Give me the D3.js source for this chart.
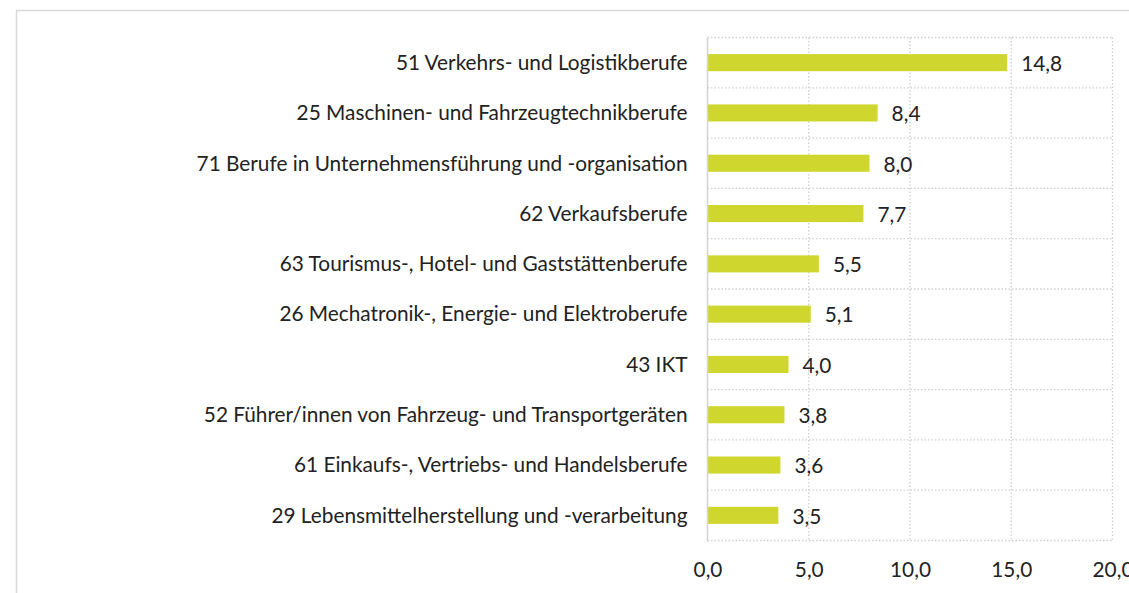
<!DOCTYPE html>
<html><head><meta charset="utf-8">
<script src="https://cdn.jsdelivr.net/npm/d3@7"></script>
<style>html,body{margin:0;padding:0;background:#fff;overflow:hidden}</style>
</head><body>
<script>
const categories = [
  "51 Verkehrs- und Logistikberufe",
  "25 Maschinen- und Fahrzeugtechnikberufe",
  "71 Berufe in Unternehmensführung und -organisation",
  "62 Verkaufsberufe",
  "63 Tourismus-, Hotel- und Gaststättenberufe",
  "26 Mechatronik-, Energie- und Elektroberufe",
  "43 IKT",
  "52 Führer/innen von Fahrzeug- und Transportgeräten",
  "61 Einkaufs-, Vertriebs- und Handelsberufe",
  "29 Lebensmittelherstellung und -verarbeitung"
];
const values = [14.8, 8.4, 8.0, 7.7, 5.5, 5.1, 4.0, 3.8, 3.6, 3.5];
const xTicks = [0, 5, 10, 15, 20];

const W = 1129, H = 593;
const fmt = v => d3.format(".1f")(v).replace(".", ",");
const font = "Lato, 'Open Sans', sans-serif";
const fs = 20.8;

const svg = d3.select("body").append("svg").attr("width", W).attr("height", H);

// outer frame
svg.append("rect").attr("x", 16.5).attr("y", 10.5).attr("width", W + 20).attr("height", H + 20)
  .attr("fill", "none").attr("stroke", "#d9d9d9").attr("stroke-width", 1.5);

const pL = 707.5, pR = 1112.5, pT = 37.5, pB = 540.5;
const x = d3.scaleLinear().domain([0, 20]).range([pL, pR]);
const y = d3.scaleBand().domain(categories).range([pT, pB]).paddingInner(0.66).paddingOuter(0.33);

const grid = svg.append("g");
const bounds = d3.range(categories.length + 1).map(i => pT + i * (pB - pT) / categories.length);
grid.selectAll("line.h").data(bounds).join("line")
  .attr("x1", pL).attr("x2", pR).attr("y1", d => d).attr("y2", d => d)
  .attr("stroke", "#cfcfcf").attr("stroke-width", 1.3).attr("stroke-dasharray", "1.5,2");
grid.selectAll("line.v").data(xTicks.slice(1)).join("line")
  .attr("x1", d => x(d)).attr("x2", d => x(d)).attr("y1", pT).attr("y2", pB)
  .attr("stroke", "#cfcfcf").attr("stroke-width", 1.3).attr("stroke-dasharray", "1.5,2");

// bars
svg.selectAll("rect.bar").data(values).join("rect")
  .attr("x", x(0)).attr("y", (d, i) => y(categories[i]))
  .attr("width", d => x(d) - x(0)).attr("height", y.bandwidth())
  .attr("fill", "#cfd72f");

// left axis line
svg.append("line").attr("x1", pL).attr("x2", pL).attr("y1", pT).attr("y2", pB + 1)
  .attr("stroke", "#d4d4d4").attr("stroke-width", 1.5);

// category labels
svg.selectAll("text.cat").data(categories).join("text")
  .attr("x", pL - 20).attr("y", d => y(d) + y.bandwidth() / 2)
  .attr("dy", "0.35em").attr("text-anchor", "end")
  .attr("font-family", font).attr("font-size", fs).attr("fill", "#222")
  .text(d => d);

// value labels
svg.selectAll("text.val").data(values).join("text")
  .attr("x", d => x(d) + 14).attr("y", (d, i) => y(categories[i]) + y.bandwidth() / 2 + 1)
  .attr("dy", "0.35em")
  .attr("font-family", font).attr("font-size", fs).attr("fill", "#222")
  .text(d => fmt(d));

// x axis tick labels
const xAxis = d3.axisBottom(x).tickValues(xTicks).tickFormat(fmt).tickSize(0).tickPadding(0);
const ax = svg.append("g").attr("transform", `translate(0,${pB + 22})`).call(xAxis);
ax.select(".domain").remove();
ax.selectAll("text").attr("font-family", font).attr("font-size", fs).attr("fill", "#222");
</script>
</body></html>
